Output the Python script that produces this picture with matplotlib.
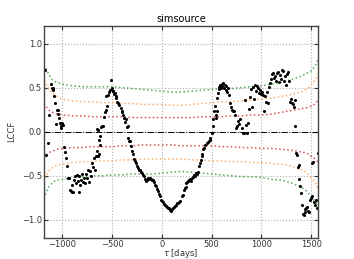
import matplotlib
matplotlib.use("Agg")
import matplotlib.pyplot as plt

# LCCF points
lag = [
    -1175, -1159, -1141, -1131, -1114, -1106, -1098, -1090, -1080, -1072,
    -1064, -1058, -1048, -1040, -1032, -1024, -1017, -1010, -1004, -994,
    -984, -974, -964, -951, -941, -932, -924, -915, -907, -898,
    -890, -880, -870, -862, -852, -844, -836, -828, -818, -808,
    -798, -788, -778, -768, -758, -748, -738, -728, -720, -712,
    -703, -693, -683, -673, -664, -656, -650, -646, -640, -636,
    -630, -624, -618, -610, -602, -594, -586, -576, -566, -562,
    -549, -539, -528, -520, -515, -505, -496, -488, -480, -472,
    -462, -456, -449, -440, -430, -415, -405, -397, -388, -382,
    -372, -361, -355, -345, -338, -328, -318, -306, -298, -288,
    -278, -268, -258, -248, -238, -228, -218, -208, -198, -188,
    -178, -168, -158, -148, -138, -128, -118, -108, -98, -88,
    -78, -68, -58, -48, -38, -28, -18, -8, 2, 12,
    22, 32, 42, 52, 62, 72, 82, 92, 102, 112,
    122, 132, 142, 152, 162, 172, 182, 197, 207, 217,
    227, 237, 247, 257, 265, 275, 285, 295, 305, 315,
    325, 335, 345, 355, 365, 375, 382, 390, 398, 407,
    415, 425, 435, 448, 458, 468, 478, 488, 499, 509,
    515, 522, 530, 539, 545, 552, 558, 565, 572, 578,
    585, 592, 600, 608, 616, 624, 632, 640, 648, 656,
    664, 672, 683, 693, 703, 713, 725, 735, 745, 753,
    763, 773, 785, 800, 813, 825, 833, 843, 853, 863,
    873, 883, 893, 903, 913, 923, 933, 943, 953, 963,
    973, 983, 993, 1003, 1013, 1023, 1033, 1043, 1053, 1063,
    1073, 1083, 1093, 1103, 1113, 1123, 1133, 1143, 1153, 1163,
    1173, 1183, 1193, 1203, 1213, 1223, 1233, 1243, 1253, 1263,
    1273, 1283, 1293, 1303, 1313, 1323, 1333, 1340, 1347, 1355,
    1365, 1372, 1380, 1390, 1397, 1405, 1413, 1422, 1432, 1440,
    1450, 1458, 1468, 1478, 1487, 1495, 1505, 1512, 1522, 1530,
    1538, 1547, 1555, 1563,
]
lccf = [
    0.70, -0.26, -0.13, 0.19, 0.54, 0.50, 0.47, 0.49, 0.40, 0.33,
    0.09, 0.25, 0.25, 0.20, 0.15, 0.10, 0.04, 0.06, 0.10, 0.08,
    -0.17, -0.23, -0.30, -0.39, -0.52, -0.53, -0.66, -0.67, -0.68, -0.60,
    -0.68, -0.55, -0.50, -0.58, -0.49, -0.56, -0.68, -0.50, -0.60, -0.55,
    -0.48, -0.57, -0.52, -0.58, -0.48, -0.53, -0.44, -0.57, -0.45, -0.50,
    -0.36, -0.40, -0.30, -0.44, -0.27, 0.03, -0.22, 0.02, -0.28, -0.25,
    -0.09, -0.15, -0.05, 0.05, 0.07, 0.06, 0.17, 0.22, 0.25, 0.40,
    0.29, 0.42, 0.45, 0.47, 0.59, 0.50, 0.46, 0.46, 0.43, 0.44,
    0.38, 0.40, 0.34, 0.33, 0.30, 0.27, 0.22, 0.23, 0.19, 0.15,
    0.11, 0.14, 0.05, 0.06, -0.07, -0.10, -0.11, -0.16, -0.22, -0.25,
    -0.31, -0.33, -0.36, -0.39, -0.41, -0.44, -0.44, -0.46, -0.47, -0.49,
    -0.50, -0.54, -0.56, -0.55, -0.53, -0.54, -0.52, -0.54, -0.55, -0.55,
    -0.57, -0.60, -0.62, -0.65, -0.67, -0.71, -0.73, -0.77, -0.79, -0.80,
    -0.82, -0.83, -0.84, -0.85, -0.86, -0.87, -0.89, -0.90, -0.88, -0.87,
    -0.85, -0.84, -0.83, -0.81, -0.81, -0.80, -0.79, -0.73, -0.72, -0.66,
    -0.64, -0.63, -0.58, -0.57, -0.56, -0.55, -0.54, -0.56, -0.52, -0.51,
    -0.49, -0.50, -0.47, -0.48, -0.46, -0.39, -0.36, -0.32, -0.28, -0.25,
    -0.20, -0.18, -0.15, -0.13, -0.12, -0.10, -0.09, -0.07, -0.02, 0.14,
    0.07, 0.23, 0.29, 0.16, 0.19, 0.23, 0.38, 0.44, 0.48, 0.51,
    0.53, 0.50, 0.54, 0.52, 0.55, 0.49, 0.53, 0.47, 0.52, 0.45,
    0.50, 0.42, 0.33, 0.28, 0.25, 0.23, 0.24, 0.19, 0.04, 0.06,
    0.12, 0.09, 0.14, 0.04, -0.01, -0.01, 0.36, 0.08, -0.02, 0.10,
    0.26, 0.39, 0.48, 0.28, 0.51, 0.37, 0.53, 0.46, 0.52, 0.49,
    0.44, 0.47, 0.43, 0.45, 0.42, 0.23, 0.40, 0.34, 0.45, 0.33,
    0.51, 0.55, 0.60, 0.65, 0.67, 0.61, 0.63, 0.58, 0.67, 0.68,
    0.56, 0.64, 0.60, 0.70, 0.69, 0.57, 0.63, 0.53, 0.66, 0.68,
    0.57, 0.34, 0.37, 0.33, 0.31, 0.28, 0.07, 0.36, -0.24, -0.26,
    -0.40, -0.38, -0.54, -0.62, -0.70, -0.83, -0.93, -0.94, -0.91, -0.88,
    -0.86, -0.85, -0.90, -0.91, -0.77, -0.75, -0.73, -0.36, -0.34, -0.80,
    -0.83, -0.77, -0.86, -0.24,
]

# significance bands (upper / lower), sampled along the lag axis
band_lag = [-1185, -1160, -1140, -1120, -1100, -1075, -1050, -1000, -900, -800,
            -700, -600, -500, -400, -300, -200, -100, 0, 100, 200,
            300, 400, 500, 600, 700, 800, 900, 1000, 1100, 1200,
            1300, 1400, 1450, 1500, 1530, 1555, 1570]
green_up = [0.76, 0.71, 0.66, 0.62, 0.59, 0.57, 0.56, 0.54, 0.52, 0.51,
            0.51, 0.51, 0.51, 0.50, 0.49, 0.48, 0.47, 0.46, 0.45, 0.45,
            0.46, 0.47, 0.48, 0.49, 0.49, 0.50, 0.51, 0.52, 0.54, 0.56,
            0.59, 0.63, 0.66, 0.69, 0.73, 0.78, 0.83]
green_lo = [-0.76, -0.68, -0.63, -0.60, -0.58, -0.56, -0.55, -0.54, -0.52, -0.51,
            -0.50, -0.50, -0.49, -0.49, -0.48, -0.48, -0.48, -0.47, -0.46, -0.45,
            -0.46, -0.47, -0.48, -0.49, -0.50, -0.51, -0.51, -0.52, -0.54, -0.55,
            -0.58, -0.63, -0.67, -0.74, -0.78, -0.81, -0.83]
orange_up = [0.58, 0.53, 0.49, 0.46, 0.44, 0.42, 0.40, 0.37, 0.35, 0.34,
             0.34, 0.33, 0.33, 0.32, 0.32, 0.31, 0.31, 0.31, 0.30, 0.30,
             0.31, 0.32, 0.33, 0.34, 0.34, 0.35, 0.36, 0.37, 0.38, 0.40,
             0.42, 0.45, 0.48, 0.53, 0.57, 0.61, 0.65]
orange_lo = [-0.57, -0.49, -0.45, -0.43, -0.41, -0.39, -0.38, -0.37, -0.35, -0.34,
             -0.34, -0.33, -0.33, -0.32, -0.32, -0.31, -0.31, -0.31, -0.31, -0.31,
             -0.32, -0.32, -0.33, -0.33, -0.34, -0.34, -0.35, -0.35, -0.36, -0.37,
             -0.39, -0.43, -0.46, -0.52, -0.56, -0.61, -0.65]
red_up = [0.32, 0.28, 0.25, 0.23, 0.22, 0.21, 0.20, 0.19, 0.18, 0.18,
          0.17, 0.17, 0.17, 0.17, 0.16, 0.16, 0.16, 0.16, 0.16, 0.16,
          0.16, 0.17, 0.17, 0.17, 0.18, 0.18, 0.19, 0.19, 0.20, 0.22,
          0.24, 0.26, 0.27, 0.29, 0.31, 0.34, 0.36]
red_lo = [-0.30, -0.26, -0.24, -0.23, -0.22, -0.21, -0.20, -0.19, -0.18, -0.18,
          -0.17, -0.17, -0.17, -0.16, -0.16, -0.15, -0.15, -0.15, -0.15, -0.16,
          -0.16, -0.16, -0.16, -0.17, -0.17, -0.18, -0.18, -0.19, -0.19, -0.20,
          -0.21, -0.23, -0.24, -0.28, -0.30, -0.33, -0.35]

xticks = [-1000, -500, 0, 500, 1000, 1500]
yticks = [-1.0, -0.5, 0.0, 0.5, 1.0]

plt.rcParams["font.family"] = ["DejaVu Sans"]
plt.rcParams["font.size"] = 6

fig = plt.figure(figsize=(3.54, 2.59), dpi=100)
ax = fig.add_axes([0.124, 0.083, 0.775, 0.817])

bands = [
    (green_up, green_lo, "#3a9a3a"),
    (orange_up, orange_lo, "#ff9f50"),
    (red_up, red_lo, "#d03a3a"),
]
for up, lo, col in bands:
    ax.plot(band_lag, up, linestyle=":", linewidth=1.1, color=col, alpha=0.85)
    ax.plot(band_lag, lo, linestyle=":", linewidth=1.1, color=col, alpha=0.85)

ax.axhline(0.0, color="black", linestyle="-.", linewidth=0.7)
ax.plot(lag, lccf, "o", color="black", markersize=2.2, markeredgewidth=0)

ax.set_xlim(-1185, 1570)
ax.set_ylim(-1.2, 1.2)
ax.set_xticks(xticks)
ax.set_yticks(yticks)
ax.grid(True, linestyle=":", color="#b0b0b0", linewidth=0.8)
ax.tick_params(direction="in", top=True, right=True, length=3, pad=1.5,
               colors="#333333", labelcolor="#333333", labelsize=6)
for s in ax.spines.values():
    s.set_color("#444444")
    s.set_linewidth(1.0)

ax.set_title("simsource", fontsize=7, pad=3)
ax.set_xlabel(r"$\tau$ [days]", labelpad=-1.5, color="#333333")
ax.set_ylabel("LCCF", labelpad=4, color="#333333")

fig.savefig("out.png", dpi=100)
